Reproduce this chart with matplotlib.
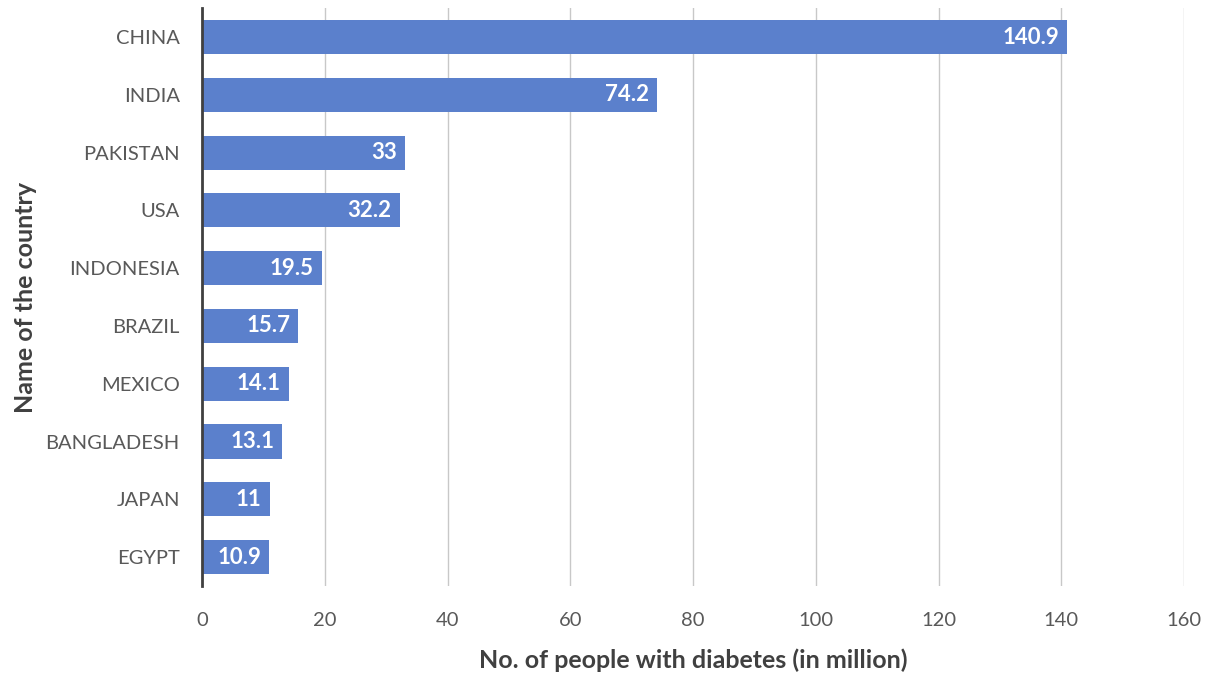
import matplotlib.pyplot as plt

paises = ['CHINA', 'INDIA', 'PAKISTAN', 'USA', 'INDONESIA', 'BRAZIL',
          'MEXICO', 'BANGLADESH', 'JAPAN', 'EGYPT']
valores = [140.9, 74.2, 33, 32.2, 19.5, 15.7, 14.1, 13.1, 11, 10.9]
etiquetas = ['140.9', '74.2', '33', '32.2', '19.5', '15.7', '14.1', '13.1', '11', '10.9']
ticks_x = [0, 20, 40, 60, 80, 100, 120, 140, 160]

plt.rcParams['font.family'] = ['Lato', 'DejaVu Sans']

fig = plt.figure(figsize=(12.14, 6.77), dpi=100)
ax = fig.add_axes([0.1664, 0.1344, 0.8089, 0.8536])

y = list(range(len(paises)))
barras = ax.barh(y, valores, height=0.59, color='#5b80cc', zorder=3)

for barra, txt in zip(barras, etiquetas):
    ax.text(barra.get_width() - 1.3, barra.get_y() + barra.get_height() / 2, txt,
            ha='right', va='center', color='white', fontsize=16, fontweight='bold', zorder=4)

ax.set_ylim(len(paises) - 0.5, -0.5)
ax.set_xlim(0, 160)
ax.set_yticks(y)
ax.set_yticklabels(paises)
ax.set_xticks(ticks_x)

ax.xaxis.grid(True, color='#c8c8c8', linewidth=1, zorder=0)
for lado in ['top', 'right', 'bottom']:
    ax.spines[lado].set_visible(False)
ax.spines['left'].set_color('#404040')
ax.spines['left'].set_linewidth(2)
ax.spines['left'].set_zorder(5)

ax.tick_params(axis='both', length=0, labelsize=14.5, labelcolor='#595959')
ax.tick_params(axis='x', pad=19)
ax.tick_params(axis='y', pad=16)

ax.set_xlabel('No. of people with diabetes (in million)', fontsize=18, fontweight='bold',
              color='#404040', labelpad=14)
ax.set_ylabel('Name of the country', fontsize=18, fontweight='bold',
              color='#404040', labelpad=6)

fig.savefig('out.png', dpi=100)
